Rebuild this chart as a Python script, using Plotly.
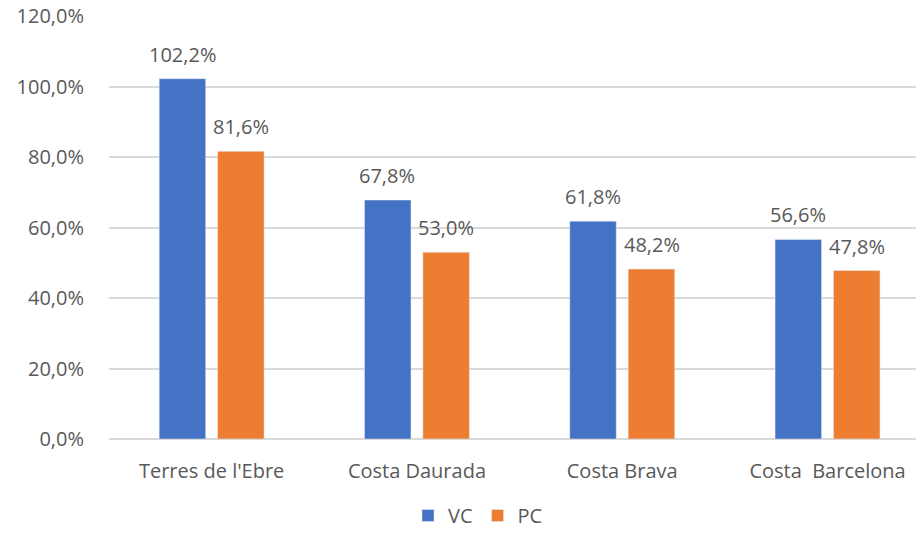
import plotly.graph_objects as go

categories = ["Terres de l'Ebre", "Costa Daurada", "Costa Brava", "Costa  Barcelona"]
vc_values = [102.2, 67.8, 61.8, 56.6]
pc_values = [81.6, 53.0, 48.2, 47.8]
y_ticks = [0, 20, 40, 60, 80, 100, 120]

BLUE = "#4472C4"
ORANGE = "#ED7D31"
TEXT = "#595959"
GRID = "#D9D9D9"
FONT = "Open Sans"
FS = 20

def fmt(v):
    return f"{v:.1f}".replace(".", ",") + "%"

fig = go.Figure()
fig.add_trace(go.Bar(name="VC", x=categories, y=vc_values, marker_color=BLUE))
fig.add_trace(go.Bar(name="PC", x=categories, y=pc_values, marker_color=ORANGE))

annotations = []
for series, shift in ((vc_values, -29.5), (pc_values, 29.5)):
    for c, v in zip(categories, series):
        annotations.append(dict(x=c, y=v, text=fmt(v), showarrow=False,
                                xshift=shift, yshift=9, yanchor="bottom",
                                font=dict(family=FONT, size=FS, color=TEXT)))

fig.update_layout(
    width=916, height=535,
    margin=dict(l=109, r=0, t=16, b=96, autoexpand=False),
    paper_bgcolor="white", plot_bgcolor="white",
    barmode="group", bargap=0.431, bargroupgap=0.204,
    font=dict(family=FONT, size=FS, color=TEXT),
    showlegend=True,
    legend=dict(orientation="h", xref="container", x=478 / 916, xanchor="center",
                yref="container", y=0, yanchor="bottom",
                font=dict(family=FONT, size=FS, color=TEXT), itemwidth=30),
    annotations=annotations,
)
fig.update_xaxes(range=[-0.5, 3.431], showgrid=False, showline=False, zeroline=False,
                 automargin=False, ticks="", ticklabelstandoff=18,
                 tickfont=dict(family=FONT, size=FS, color=TEXT))
fig.update_yaxes(range=[0, 120], tickvals=y_ticks, ticktext=[fmt(t) for t in y_ticks],
                 showgrid=True, gridcolor=GRID, gridwidth=2,
                 zeroline=True, zerolinecolor=GRID, zerolinewidth=2,
                 automargin=False, showline=False, ticks="", ticklabelstandoff=24,
                 tickfont=dict(family=FONT, size=FS, color=TEXT))

fig.write_html("out.html", config={"displayModeBar": False},
               post_script="document.body.style.margin='0';document.body.style.overflow='hidden';")
